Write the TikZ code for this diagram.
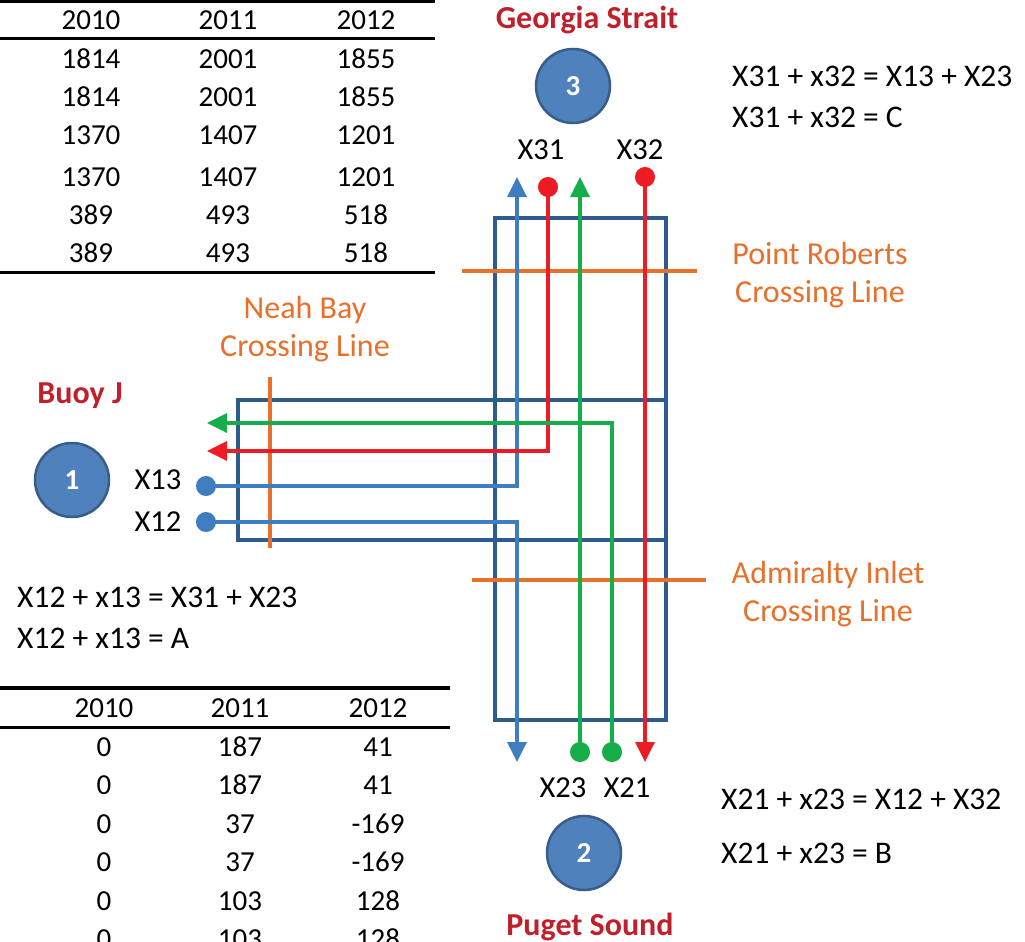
\documentclass[tikz,border=0pt]{standalone}
\usepackage{fontspec}
\setmainfont{Carlito}
\usetikzlibrary{arrows.meta}
\definecolor{RegionFill}{HTML}{4F81BD}
\definecolor{RegionEdge}{HTML}{385D8A}
\definecolor{FrameBlue}{HTML}{2C5C8D}
\definecolor{FlowBlue}{HTML}{3F7DC1}
\definecolor{FlowRed}{HTML}{ED1C24}
\definecolor{FlowGreen}{HTML}{15AE4B}
\definecolor{CrossOrange}{HTML}{E8702A}
\definecolor{PlaceRed}{HTML}{C0202B}

\begin{document}
\begin{tikzpicture}[
        x=1pt, y=-1pt,
        region/.style={
            circle, minimum size=74pt, inner sep=0pt, fill=RegionFill, draw=RegionEdge,
            line width=2.5pt, text=white, font=\fontsize{29}{32}\selectfont\bfseries
        },
        place/.style={text=PlaceRed, font=\fontsize{32}{36}\selectfont\bfseries},
        crosslabel/.style={text=CrossOrange, align=center, font=\fontsize{32}{38}\selectfont},
        flowlabel/.style={font=\fontsize{30.5}{34}\selectfont},
        equation/.style={anchor=west, inner sep=0pt, font=\fontsize{31.5}{34}\selectfont},
        cell/.style={font=\fontsize{29}{32}\selectfont},
        frame/.style={draw=FrameBlue, line width=4pt, inner sep=0pt},
        crossing/.style={draw=CrossOrange, line width=4.5pt},
        rule/.style={draw=black, line width=3pt},
        flow/.style={line width=3.5pt, {Circle[length=20pt]}-{Triangle[width=19pt,length=20pt]}},
        outflow/.style={line width=3.5pt, -{Triangle[width=19pt,length=20pt]}}
    ]
    \useasboundingbox (0,0) rectangle (1025,942);

    % Upper table
    \draw [rule] (0,1.5) -- (435,1.5);
    \draw [rule] (0,39) -- (435,39);
    \draw [rule] (0,272) -- (435,272);
    \node[cell] (ua1) at (91,20) {2010};  \node[cell] (ua2) at (228,20) {2011};  \node[cell] (ua3) at (366,20) {2012};
    \node[cell] (ub1) at (91,59) {1814};  \node[cell] (ub2) at (228,59) {2001};  \node[cell] (ub3) at (366,59) {1855};
    \node[cell] (uc1) at (91,97) {1814};  \node[cell] (uc2) at (228,97) {2001};  \node[cell] (uc3) at (366,97) {1855};
    \node[cell] (ud1) at (91,135) {1370}; \node[cell] (ud2) at (228,135) {1407}; \node[cell] (ud3) at (366,135) {1201};
    \node[cell] (ue1) at (91,177) {1370}; \node[cell] (ue2) at (228,177) {1407}; \node[cell] (ue3) at (366,177) {1201};
    \node[cell] (uf1) at (91,215) {389};  \node[cell] (uf2) at (228,215) {493};  \node[cell] (uf3) at (366,215) {518};
    \node[cell] (ug1) at (91,253) {389};  \node[cell] (ug2) at (228,253) {493};  \node[cell] (ug3) at (366,253) {518};

    % Lower table
    \draw [rule, line width=4.5pt] (0,688) -- (450,688);
    \draw [rule] (0,727) -- (450,727);
    \node[cell] (la1) at (104,708) {2010}; \node[cell] (la2) at (240,708) {2011}; \node[cell] (la3) at (378,708) {2012};
    \node[cell] (lb1) at (104,747) {0};    \node[cell] (lb2) at (240,747) {187};  \node[cell] (lb3) at (378,747) {41};
    \node[cell] (lc1) at (104,785) {0};    \node[cell] (lc2) at (240,785) {187};  \node[cell] (lc3) at (378,785) {41};
    \node[cell] (ld1) at (104,824) {0};    \node[cell] (ld2) at (240,824) {37};   \node[cell] (ld3) at (378,824) {-169};
    \node[cell] (le1) at (104,862) {0};    \node[cell] (le2) at (240,862) {37};   \node[cell] (le3) at (378,862) {-169};
    \node[cell] (lf1) at (104,901) {0};    \node[cell] (lf2) at (240,901) {103};  \node[cell] (lf3) at (378,901) {128};
    \node[cell] (lg1) at (104,939) {0};    \node[cell] (lg2) at (240,939) {103};  \node[cell] (lg3) at (378,939) {128};

    % Channel frames
    \node (strait) [frame, minimum width=171pt, minimum height=502pt] at (580.5,469) {};
    \node (juan) [frame, minimum width=428pt, minimum height=140pt] at (452,470) {};

    % Crossing lines
    \draw [crossing] (462,271) -- (697,271);
    \draw [crossing] (472,580) -- (706,580);
    \draw [crossing] (270,377) -- (270,548);
    \node (pointroberts) [crosslabel] at (820,275) {Point Roberts\\Crossing Line};
    \node (admiralty) [crosslabel] at (828,594) {Admiralty Inlet\\Crossing Line};
    \node (neahbay) [crosslabel] at (305,329) {Neah Bay\\Crossing Line};

    % Regions
    \node (buoy) [region] at (72,480) {1};
    \node (georgia) [region] at (573,86) {3};
    \node (puget) [region] at (584,853) {2};
    \node[place] at (80,396) {Buoy J};
    \node[place] at (587,20) {Georgia Strait};
    \node[place] at (590,927) {Puget Sound};

    % Flow ends
    \coordinate (x13start) at (196,486);
    \coordinate (x12start) at (196,522);
    \coordinate (x31tip) at (517,177);
    \coordinate (x23tip) at (517,762);
    \coordinate (x32start) at (548,177);
    \coordinate (x13tip) at (207,451);
    \coordinate (x21start) at (612,762);
    \coordinate (x12tip) at (207,423);
    \coordinate (x23start) at (580,762);
    \coordinate (x32tip) at (580,177);
    \coordinate (x31start) at (645,167);
    \coordinate (x21tip) at (645,762);

    % Flows
    \draw [flow, FlowBlue] (x13start) -| (x31tip);
    \draw [flow, FlowBlue] (x12start) -| (x23tip);
    \draw [flow, FlowRed] (x32start) |- (x13tip);
    \draw [flow, FlowGreen] (x21start) |- (x12tip);
    \draw [flow, FlowGreen] (x23start) -- (x32tip);
    \draw [flow, FlowRed] (x31start) -- (x21tip);

    % Flow labels
    \node[flowlabel] (lx31) at (541,150) {X31};
    \node[flowlabel] (lx32) at (640,150) {X32};
    \node[flowlabel] (lx13) at (158,480) {X13};
    \node[flowlabel] (lx12) at (158,522) {X12};
    \node[flowlabel] (lx23) at (563,788) {X23};
    \node[flowlabel] (lx21) at (627,788) {X21};

    % Balances
    \node[equation] (eqc1) at (732,76) {X31 + x32 = X13 + X23};
    \node[equation] (eqc2) at (732,117) {X31 + x32 = C};
    \node[equation] (eqa1) at (17,597) {X12 + x13 = X31 + X23};
    \node[equation] (eqa2) at (17,638) {X12 + x13 = A};
    \node[equation] (eqb1) at (721,799) {X21 + x23 = X12 + X32};
    \node[equation] (eqb2) at (721,853) {X21 + x23 = B};

\end{tikzpicture}
\end{document}
